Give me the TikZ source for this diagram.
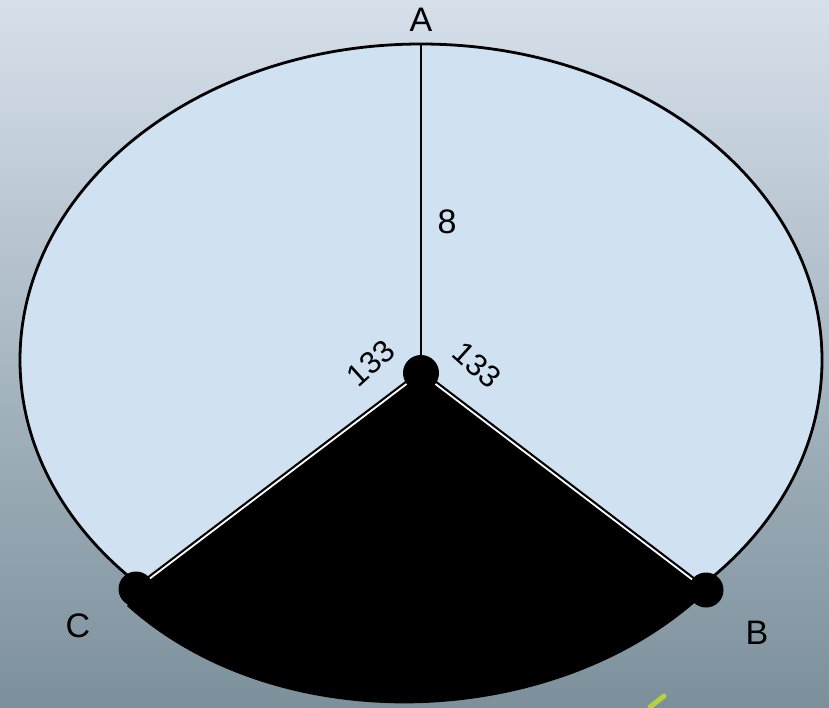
\documentclass[tikz,border=0pt]{standalone}
\usepackage{fontspec}
\setmainfont{Liberation Sans}
\begin{document}
\begin{tikzpicture}[x=1pt,y=-1pt,
  lbl/.style={inner sep=0pt, font=\fontsize{34}{40}\selectfont},
  smalllbl/.style={inner sep=0pt, font=\fontsize{31}{36}\selectfont},
  seg/.style={draw=black, line width=2.2pt, double=white, double distance=1.8pt},
  rim/.style={draw=black, line width=2.8pt, fill=lightfill}]
\definecolor{bgtop}{HTML}{D6E0EB}
\definecolor{bgmid}{HTML}{ABBBCB}
\definecolor{bgbot}{HTML}{7C909B}
\definecolor{lightfill}{HTML}{D0E1F2}
\definecolor{sprout}{HTML}{B8D040}
\useasboundingbox (0,0) rectangle (829,707);
% background
\shade[top color=bgtop, middle color=bgmid, bottom color=bgbot] (0,0) rectangle (829,707);
\draw[sprout, line width=5pt, line cap=round] (650,707) -- (664,696);
% main ellipse
\draw[rim] (421,360) ellipse [x radius=401, y radius=316];
% vertices
\coordinate (O) at (421,373);
\coordinate (Cd) at (136,589);
\coordinate (Bd) at (706,590);
\coordinate (Atop) at (421,44);
\coordinate (Cc) at (127,606);
\coordinate (Bc) at (700,598);
% black sector
\fill[black] (O) -- (Cd) -- (Cc) .. controls (277,741) and (550,733) .. (Bc) -- (Bd) -- cycle;
% edges
\draw[seg] (O) -- (Cd);
\draw[seg] (O) -- (Bd);
\draw[black, line width=2.6pt] (Atop) -- (O);
% dots
\fill[black] (O) circle [radius=18];
\fill[black] (Cd) circle [radius=17.5];
\fill[black] (Bd) circle [radius=17.5];
% labels
\node[lbl] (lA) at (421,20) {A};
\node[lbl] (l8) at (447,222) {8};
\node[lbl] (lC) at (78,626) {C};
\node[lbl] (lB) at (757,633) {B};
\node[smalllbl, rotate=42] (t1) at (371,363) {133};
\node[smalllbl, rotate=-42] (t2) at (477,365) {133};
\end{tikzpicture}
\end{document}
